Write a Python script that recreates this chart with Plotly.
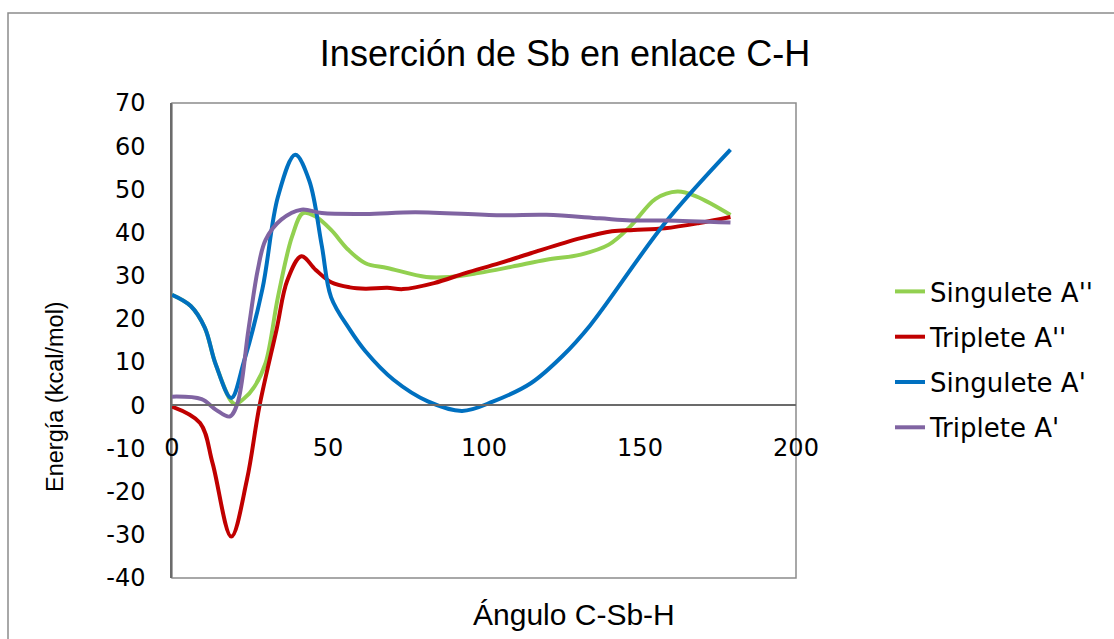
import plotly.graph_objects as go

# ---------------- data ----------------
sing_app_x = [0, 6, 10.5, 14, 20, 23, 26.5, 30, 34, 38.5, 42, 46, 51, 56.5, 62, 69, 81.5, 89, 98, 109, 120, 131, 140, 147, 155, 162, 168, 179]
sing_app_y = [25.6, 23, 18, 9.5, 0.3, 1.5, 4.4, 9.8, 25.2, 39.1, 44.5, 43.7, 40.6, 36, 32.9, 31.8, 29.7, 29.7, 30.6, 32.1, 33.7, 34.9, 37.2, 41.5, 47.8, 49.5, 48.4, 44.1]

trip_app_x = [0, 9, 13, 19, 24, 28, 33.5, 37, 41.5, 46, 51, 57, 62, 69, 74, 84, 94, 105, 115, 131, 141, 148, 158, 169, 179]
trip_app_y = [-0.3, -4.1, -13.4, -30.4, -17.3, -0.3, 17.5, 29, 34.5, 31.4, 28.5, 27.3, 27, 27.2, 26.9, 28.3, 30.6, 32.9, 35.2, 38.7, 40.3, 40.6, 41, 42.2, 43.6]

sing_ap_x = [0, 6, 10.5, 14, 19, 23, 29, 34, 39.5, 44, 48, 51, 57, 62, 71, 82, 93, 103, 115, 125, 134, 158, 179]
sing_ap_y = [25.6, 23, 18, 9.5, 1.7, 10, 27, 48.4, 58, 52, 37, 25, 17.5, 12.5, 5.9, 0.9, -1.3, 0.9, 5.1, 11.3, 18.5, 42.2, 59.2]

trip_ap_x = [0, 9.5, 14, 18.5, 21, 24.5, 27.5, 30, 35, 41.5, 48, 62, 78, 105, 120, 137, 147, 158, 179]
trip_ap_y = [2, 1.4, -1, -2.6, 0.5, 17.5, 31.4, 38.3, 43, 45.3, 44.5, 44.3, 44.7, 44, 44.1, 43.3, 42.8, 42.8, 42.3]

series_names = ["Singulete A''", "Triplete A''", "Singulete A'", "Triplete A'"]
x_ticks = [0, 50, 100, 150, 200]
y_ticks = [-40, -30, -20, -10, 0, 10, 20, 30, 40, 50, 60, 70]

# ---------------- layout constants ----------------
W, H = 1114, 639
L, R, T, B = 172, 796, 103, 578   # plot area in pixels
Y_MIN, Y_MAX = -40, 70
X_MIN, X_MAX = 0, 200

def px_to_paper_x(px):
    return (px - L) / (R - L)

def px_to_paper_y(py):
    return (B - py) / (B - T)

colors = ["#92D050", "#C00000", "#0070C0", "#8064A2"]
series = [(sing_app_x, sing_app_y), (trip_app_x, trip_app_y),
          (sing_ap_x, sing_ap_y), (trip_ap_x, trip_ap_y)]

fig = go.Figure()
for i, ((xs, ys), name, col) in enumerate(zip(series, series_names, colors)):
    fig.add_trace(go.Scatter(
        x=xs, y=ys, mode="lines", name=name, legendgroup=f"g{i}",
        line=dict(color=col, width=4, shape="spline", smoothing=1.0),
    ))

tick_font = dict(family="DejaVu Sans, Liberation Sans, Arial", size=24, color="#000000")

fig.update_layout(
    width=W, height=H,
    paper_bgcolor="white", plot_bgcolor="white",
    margin=dict(l=L, r=W - R, t=T, b=H - B, autoexpand=False),
    title=dict(
        text="Inserción de Sb en enlace C-H",
        font=dict(family="Liberation Sans, Arial", size=36, color="#000000"),
        x=565 / W, xref="container", xanchor="center",
        y=1 - 53 / H, yref="container", yanchor="middle",
    ),
    xaxis=dict(
        range=[X_MIN, X_MAX], tickvals=x_ticks, ticktext=[str(v) for v in x_ticks],
        anchor="free", position=(0 - Y_MIN) / (Y_MAX - Y_MIN),
        showline=True, linecolor="#6b6b6b", linewidth=1.5,
        ticks="", showgrid=False, zeroline=False,
        tickfont=tick_font, ticklabelstandoff=21, automargin=False,
    ),
    yaxis=dict(
        range=[Y_MIN, Y_MAX], tickvals=y_ticks, ticktext=[str(v) for v in y_ticks],
        showline=True, linecolor="#6b6b6b", linewidth=1.5,
        ticks="", showgrid=False, zeroline=False,
        tickfont=tick_font, ticklabelstandoff=20, automargin=False,
    ),
    legend=dict(
        x=px_to_paper_x(890), xanchor="left",
        y=px_to_paper_y(268), yanchor="top",
        font=dict(family="DejaVu Sans, Liberation Sans, Arial", size=26, color="#000000"),
        tracegroupgap=8.5, bgcolor="rgba(0,0,0,0)", borderwidth=0,
    ),
    showlegend=True,
)

# plot-area border and outer chart frame
fig.add_shape(type="rect", xref="paper", yref="paper", x0=0, x1=1, y0=0, y1=1,
              line=dict(color="#8c8c8c", width=1.5), layer="below")
fig.add_shape(type="rect", xref="paper", yref="paper",
              x0=px_to_paper_x(8), x1=px_to_paper_x(1125),
              y0=px_to_paper_y(660), y1=px_to_paper_y(13),
              line=dict(color="#8c8c8c", width=1.5), layer="below")

# axis titles
fig.add_annotation(text="Energía (kcal/mol)", xref="paper", yref="paper",
                   x=px_to_paper_x(55), y=px_to_paper_y(397), textangle=-90,
                   showarrow=False, xanchor="center", yanchor="middle",
                   font=dict(family="Liberation Sans, Arial", size=23.5, color="#000000"))
fig.add_annotation(text="Ángulo C-Sb-H", xref="paper", yref="paper",
                   x=px_to_paper_x(574), y=px_to_paper_y(614),
                   showarrow=False, xanchor="center", yanchor="middle",
                   font=dict(family="Liberation Sans, Arial", size=30, color="#000000"))

fig.write_html("out.html", config={"displayModeBar": False},
               post_script="document.body.style.margin='0px';")
